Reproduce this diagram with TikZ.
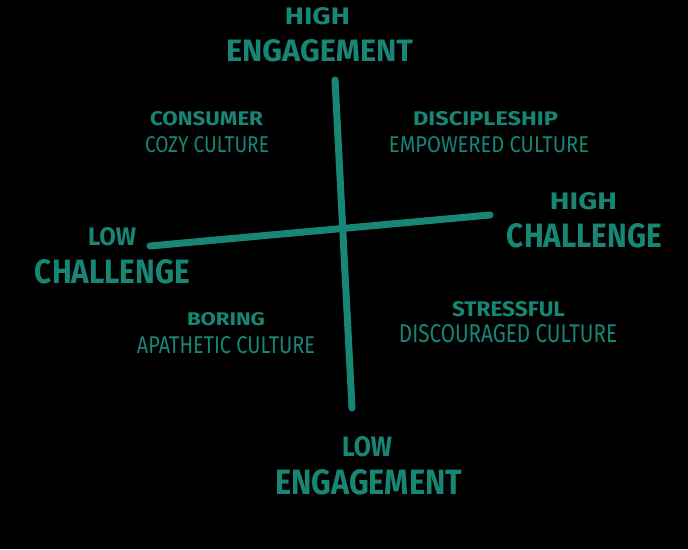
\documentclass[tikz,border=0pt]{standalone}
\usepackage{fontspec}
\setmainfont{Fira Sans}
\usepackage{graphicx}
\definecolor{tealink}{HTML}{178675}
\newcommand{\fitlbl}[3]{\resizebox{#1pt}{#2pt}{#3}}
\tikzset{
  headlbl/.style={text=tealink, inner sep=0pt, font=\bfseries},
  sublbl/.style={text=tealink, inner sep=0pt, font=\mdseries},
  axisline/.style={draw=tealink, line width=7pt, line cap=round}
}
\begin{document}
\begin{tikzpicture}[x=1pt,y=-1pt]
\useasboundingbox (0,0) rectangle (688,549);
\fill[black] (0,0) rectangle (688,549);
% axes
\coordinate (vt) at (335,80);
\coordinate (vb) at (352,408);
\coordinate (hl) at (150,246);
\coordinate (hr) at (490,215);
\draw[axisline] (vt) -- (vb);
\draw[axisline] (hl) -- (hr);
% axis labels
\node[headlbl] (highE) at (317.5,16.5) {\fitlbl{65}{17}{HIGH}};
\node[headlbl] (engT) at (319.5,51) {\fitlbl{187}{22}{ENGAGEMENT}};
\node[headlbl] (lowE) at (367,447) {\fitlbl{50}{20}{LOW}};
\node[headlbl] (engB) at (368.5,482.5) {\fitlbl{187}{25}{ENGAGEMENT}};
\node[headlbl] (lowC) at (112,237) {\fitlbl{48}{18}{LOW}};
\node[headlbl] (chL) at (112.5,272) {\fitlbl{155}{24}{CHALLENGE}};
\node[headlbl] (highC) at (583.5,201.5) {\fitlbl{67}{17}{HIGH}};
\node[headlbl] (chR) at (584.5,236) {\fitlbl{155}{24}{CHALLENGE}};
% quadrants
\node[headlbl] (cons) at (206.5,119) {\fitlbl{113}{14}{CONSUMER}};
\node[sublbl] (cozy) at (207,145) {\fitlbl{124}{16}{COZY CULTURE}};
\node[headlbl] (disc) at (485.5,119) {\fitlbl{145}{14}{DISCIPLESHIP}};
\node[sublbl] (emp) at (489,145) {\fitlbl{200}{16}{EMPOWERED CULTURE}};
\node[headlbl] (bor) at (226,319.5) {\fitlbl{78}{13}{BORING}};
\node[sublbl] (apa) at (226,345.5) {\fitlbl{178}{17}{APATHETIC CULTURE}};
\node[headlbl] (str) at (508.5,309.5) {\fitlbl{113}{15}{STRESSFUL}};
\node[sublbl] (dis) at (508,334) {\fitlbl{218}{18}{DISCOURAGED CULTURE}};
\end{tikzpicture}
\end{document}
